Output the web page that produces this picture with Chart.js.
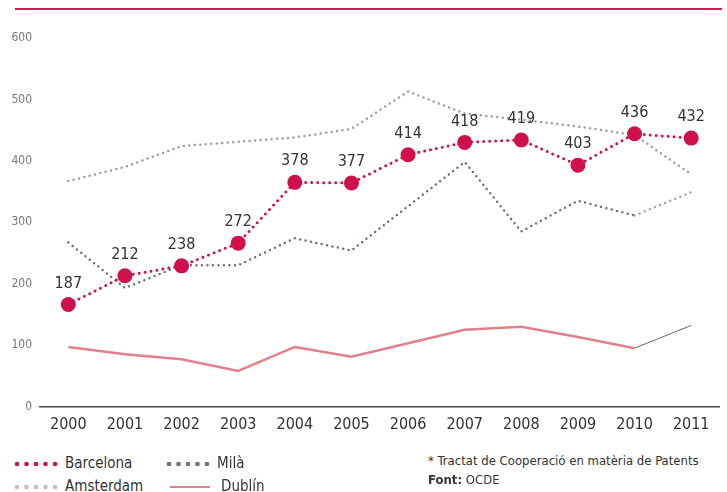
<!DOCTYPE html>
<html>
<head>
<meta charset="utf-8">
<script src="https://cdn.jsdelivr.net/npm/chart.js@4.4.1/dist/chart.umd.min.js"></script>
<style>
  body { margin: 0; background: #fff; font-family: "DejaVu Sans Condensed", "Liberation Sans Narrow", sans-serif; overflow: hidden; }
  #wrap { position: relative; width: 727px; height: 492px; }
  #topLine { position: absolute; left: 15px; top: 8px; width: 707px; height: 1.5px; background: #d8194f; }
  #chartBox { position: absolute; left: 0; top: 0; width: 727px; height: 445px; }
  .leg { position: absolute; font-size: 15px; color: #333; white-space: nowrap; line-height: 18px; }
  .leg .sym { display: inline-block; vertical-align: middle; margin-right: 3px; }
  .note { position: absolute; left: 428px; font-size: 13px; color: #333; white-space: nowrap; }
</style>
</head>
<body>
<div id="wrap">
  <div id="topLine"></div>
  <div id="chartBox"><canvas id="myChart"></canvas></div>
  <div id="legend"></div>
  <div class="note" style="top:453px">* Tractat de Cooperació en matèria de Patents</div>
  <div class="note" style="top:472px"><b>Font:</b> OCDE</div>
</div>
<script>
var years = ['2000', '2001', '2002', '2003', '2004', '2005', '2006', '2007', '2008', '2009', '2010', '2011'];
var yTicks = [0, 100, 200, 300, 400, 500, 600];

// positions of the marks
var barcelona = [166, 213, 229, 266, 365, 364, 410, 430, 434, 393, 444, 437];
// numbers printed above the Barcelona markers
var barcelonaLabels = ['187', '212', '238', '272', '378', '377', '414', '418', '419', '403', '436', '432'];
var amsterdam = [367, 390, 424, 431, 438, 452, 513, 477, 467, 456, 442, 378];
var mila = [267, 193, 230, 230, 274, 254, 326, 398, 285, 335, 311, 349];
var dublin = [97, 85, 77, 58, 97, 81, 103, 125, 130, 113, 95, 132];

var seriesNames = ['Barcelona', 'Amsterdam', 'Milà', 'Dublín'];

var red = '#d0104a';
var grayAms = '#9c9c9c';
var grayMila = '#66737d';
var pink = '#e0808a';

var labelPlugin = {
  id: 'barLabels',
  afterDatasetsDraw: function(chart) {
    var ctx = chart.ctx;
    var meta = chart.getDatasetMeta(0);
    ctx.save();
    ctx.font = '16px "DejaVu Sans Condensed", "Liberation Sans Narrow", sans-serif';
    ctx.fillStyle = '#333';
    ctx.textAlign = 'center';
    ctx.textBaseline = 'middle';
    meta.data.forEach(function(pt, i) {
      ctx.fillText(barcelonaLabels[i], pt.x, pt.y - 21);
    });
    ctx.restore();
  }
};

function init() {
  var ctx = document.getElementById('myChart').getContext('2d');
  var chart = new Chart(ctx, {
    type: 'line',
    data: {
      labels: years,
      datasets: [{
        label: seriesNames[0],
        data: barcelona,
        borderColor: red,
        backgroundColor: red,
        borderWidth: 3,
        borderDash: [0, 6],
        borderCapStyle: 'round',
        pointRadius: 7.5,
        pointBackgroundColor: red,
        pointBorderWidth: 0,
        tension: 0
      }, {
        label: seriesNames[1],
        data: amsterdam,
        borderColor: grayAms,
        borderWidth: 2.5,
        borderDash: [0, 5.5],
        borderCapStyle: 'round',
        pointRadius: 0,
        tension: 0
      }, {
        label: seriesNames[2],
        data: mila,
        borderColor: grayMila,
        borderWidth: 2.5,
        borderDash: [0, 5.5],
        borderCapStyle: 'round',
        pointRadius: 0,
        tension: 0,
        segment: {
          borderColor: function(c) { return c.p1DataIndex === 11 ? '#93a8ba' : undefined; }
        }
      }, {
        label: seriesNames[3],
        data: dublin,
        borderColor: pink,
        borderWidth: 2.5,
        pointRadius: 0,
        tension: 0,
        segment: {
          borderColor: function(c) { return c.p1DataIndex === 11 ? '#666' : undefined; },
          borderWidth: function(c) { return c.p1DataIndex === 11 ? 1 : undefined; }
        }
      }]
    },
    options: {
      responsive: true,
      maintainAspectRatio: false,
      animation: false,
      layout: { padding: { top: 38, right: 7, left: 0, bottom: 0 } },
      plugins: {
        legend: { display: false },
        tooltip: { enabled: false }
      },
      scales: {
        x: {
          offset: true,
          grid: { display: false, drawTicks: false },
          border: { display: true, color: '#444', width: 1.5 },
          ticks: {
            color: '#333',
            padding: 9,
            font: { size: 16, family: '"DejaVu Sans Condensed", "Liberation Sans Narrow", sans-serif' }
          },
          afterFit: function(scale) { scale.height = 38.5; }
        },
        y: {
          min: 0,
          max: 600,
          afterBuildTicks: function(scale) {
            scale.ticks = yTicks.map(function(v) { return { value: v }; });
          },
          grid: { display: false, drawTicks: false },
          border: { display: false },
          ticks: {
            color: '#777',
            padding: 8,
            font: { size: 12, family: '"DejaVu Sans Condensed", "Liberation Sans Narrow", sans-serif' }
          },
          afterFit: function(scale) { scale.width = 40; }
        }
      }
    },
    plugins: [labelPlugin]
  });

  // legend below the chart
  var legend = document.getElementById('legend');
  var legPos = [[14, 454], [14, 477], [166, 454], [166, 477]];
  var legColors = [red, '#c9bdb5', grayMila, pink];
  seriesNames.forEach(function(name, i) {
    var d = document.createElement('div');
    d.className = 'leg';
    d.style.left = legPos[i][0] + 'px';
    d.style.top = legPos[i][1] + 'px';
    var sym = document.createElement('canvas');
    sym.className = 'sym';
    sym.width = i === 3 ? 52 : 48;
    sym.height = 10;
    var c = sym.getContext('2d');
    c.fillStyle = legColors[i];
    c.strokeStyle = legColors[i];
    if (i === 3) {
      c.lineWidth = 2;
      c.beginPath(); c.moveTo(4, 5); c.lineTo(44, 5); c.stroke();
    } else {
      for (var k = 0; k < 5; k++) {
        c.beginPath(); c.arc(3 + k * 9.5, 5, 2.3, 0, Math.PI * 2); c.fill();
      }
    }
    d.appendChild(sym);
    d.appendChild(document.createTextNode(name));
    legend.appendChild(d);
  });
}

window.onload = function() {
  init();
};
</script>
</body>
</html>
